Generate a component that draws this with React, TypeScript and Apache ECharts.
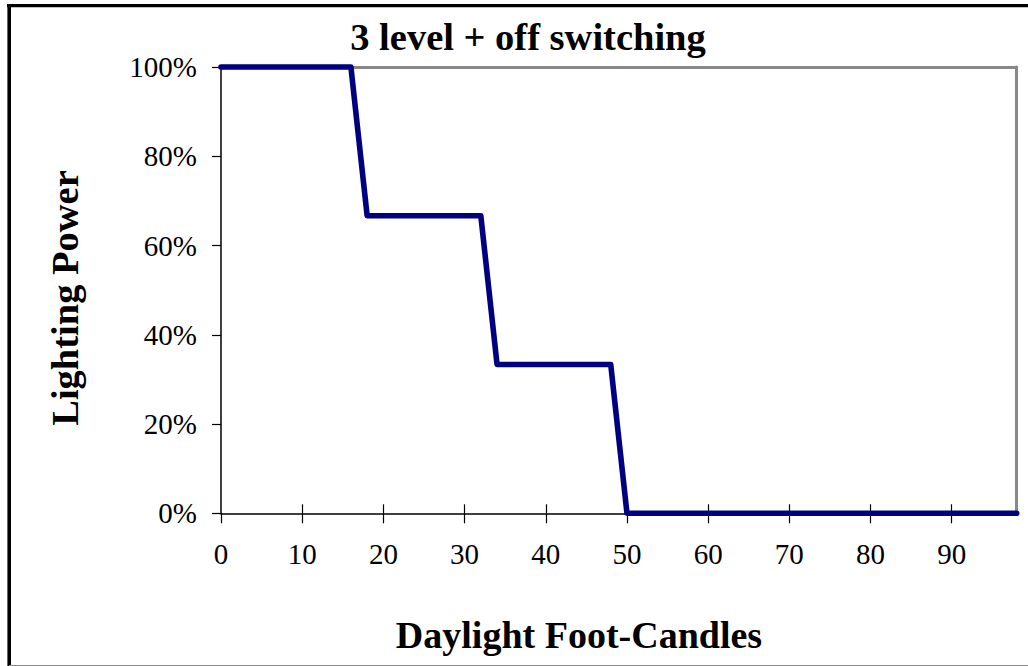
import React, { useEffect, useRef } from "react";
import * as echarts from "echarts";

const titleText = "3 level + off switching";
const xAxisName = "Daylight Foot-Candles";
const yAxisName = "Lighting Power";
const footCandles = [0, 16, 18, 32, 34, 48, 50, 98];
const powerPct = [100, 100, 66.67, 66.67, 33.33, 33.33, 0, 0];
const xTicks = [0, 10, 20, 30, 40, 50, 60, 70, 80, 90];
const yTicks = [0, 20, 40, 60, 80, 100];

const FONT = "'Liberation Serif', 'Times New Roman', serif";

export default function App() {
  const ref = useRef<HTMLDivElement>(null);
  useEffect(() => {
    if (!ref.current) return;
    const chart = echarts.init(ref.current, undefined, { renderer: "svg" });
    const data = footCandles.map((x, i) => [x, powerPct[i]]);
    chart.setOption({
      animation: false,
      backgroundColor: "#ffffff",
      grid: { left: 221, right: 11.3, top: 67, bottom: 152.7, containLabel: false },
      xAxis: [
        {
          type: "value",
          min: 0,
          max: 98,
          interval: 10,
          position: "bottom",
          splitLine: { show: false },
          axisLine: { show: true, onZero: false, lineStyle: { color: "#000", width: 1.5 } },
          axisTick: { show: true, length: 10, customValues: xTicks, lineStyle: { color: "#000", width: 1.2 } },
          axisLabel: {
            show: true,
            customValues: xTicks,
            margin: 26,
            color: "#000",
            fontFamily: FONT,
            fontSize: 29,
          },
        },
        {
          type: "value",
          min: 0,
          max: 98,
          position: "bottom",
          splitLine: { show: false },
          axisLine: { show: false },
          axisTick: { show: true, inside: true, length: 9, customValues: xTicks.slice(1), lineStyle: { color: "#000", width: 1.2 } },
          axisLabel: { show: false },
        },
        {
          type: "value",
          min: 0,
          max: 98,
          position: "top",
          splitLine: { show: false },
          axisLine: { show: true, onZero: false, lineStyle: { color: "#888", width: 3 } },
          axisTick: { show: false },
          axisLabel: { show: false },
        },
      ],
      yAxis: [
        {
          type: "value",
          min: 0,
          max: 100,
          interval: 20,
          position: "left",
          splitLine: { show: false },
          axisLine: { show: true, onZero: false, lineStyle: { color: "#000", width: 1.5 } },
          axisTick: { show: true, length: 9, customValues: yTicks, lineStyle: { color: "#000", width: 1.2 } },
          axisLabel: {
            show: true,
            customValues: yTicks,
            formatter: (v: number) => `${v}%`,
            margin: 24,
            color: "#000",
            fontFamily: FONT,
            fontSize: 29,
          },
        },
        {
          type: "value",
          min: 0,
          max: 100,
          position: "right",
          splitLine: { show: false },
          axisLine: { show: true, onZero: false, lineStyle: { color: "#888", width: 3 } },
          axisTick: { show: false },
          axisLabel: { show: false },
        },
      ],
      series: [
        {
          type: "line",
          data,
          xAxisIndex: 0,
          yAxisIndex: 0,
          showSymbol: false,
          symbol: "none",
          clip: false,
          lineStyle: { color: "#000080", width: 5.6, cap: "round", join: "round" },
          z: 5,
        },
      ],
      graphic: [
        {
          type: "line",
          shape: { x1: 7, y1: 5.6, x2: 1028, y2: 5.6 },
          style: { stroke: "#000", lineWidth: 3.4 },
        },
        {
          type: "line",
          shape: { x1: 9.2, y1: 4, x2: 9.2, y2: 666 },
          style: { stroke: "#000", lineWidth: 3.6 },
        },
        {
          type: "line",
          shape: { x1: 9, y1: 665.5, x2: 1028, y2: 665.5 },
          style: { stroke: "#888", lineWidth: 1 },
        },
        {
          type: "text",
          x: 528,
          y: 37,
          style: {
            text: titleText,
            fill: "#000",
            font: `bold 38.5px ${FONT}`,
            textAlign: "center",
            textVerticalAlign: "middle",
          },
        },
        {
          type: "text",
          x: 579,
          y: 635,
          style: {
            text: xAxisName,
            fill: "#000",
            font: `bold 38px ${FONT}`,
            textAlign: "center",
            textVerticalAlign: "middle",
          },
        },
        {
          type: "text",
          x: 65,
          y: 298,
          rotation: Math.PI / 2,
          style: {
            text: yAxisName,
            fill: "#000",
            font: `bold 38.5px ${FONT}`,
            textAlign: "center",
            textVerticalAlign: "middle",
          },
        },
      ],
    });
    return () => chart.dispose();
  }, []);
  return (
    <div
      ref={ref}
      style={{ position: "fixed", left: 0, top: 0, width: 1028, height: 666, background: "#fff" }}
    />
  );
}
